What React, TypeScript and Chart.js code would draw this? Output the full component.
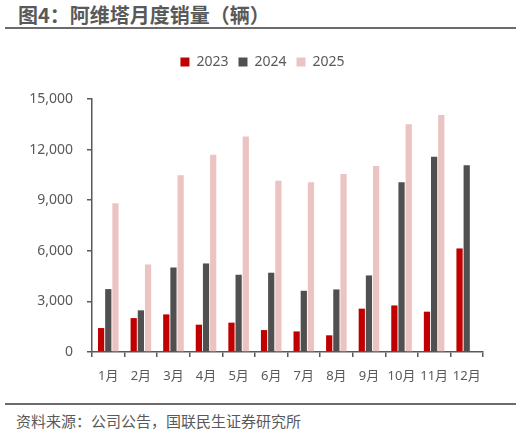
import { useEffect, useRef } from "react";
import { Chart, registerables } from "chart.js";

Chart.register(...registerables);

const months = ["1月", "2月", "3月", "4月", "5月", "6月", "7月", "8月", "9月", "10月", "11月", "12月"];
const sales2023 = [1420, 2010, 2230, 1620, 1740, 1300, 1220, 990, 2570, 2760, 2390, 6140];
const sales2024 = [3730, 2470, 5010, 5250, 4580, 4700, 3630, 3710, 4540, 10060, 11580, 11070];
const sales2025 = [8820, 5190, 10480, 11700, 12770, 10160, 10060, 10560, 11030, 13500, 14050, null];
const seriesNames = ["2023", "2024", "2025"];

const FONT = '"Noto Sans", "Noto Sans CJK SC", sans-serif';
const GREY = "#595959";

// legend sits a bit right of the plot centre and leaves a gap below it
const legendTweak = {
  id: "legendTweak",
  beforeInit(chart: any) {
    const lg = chart.legend;
    const origFit = lg.fit;
    const origDraw = lg.draw;
    lg.fit = function () {
      origFit.bind(lg)();
      this.height += 20;
    };
    lg.draw = function () {
      const c = chart.ctx;
      c.save();
      c.translate(21, 0);
      origDraw.bind(lg)();
      c.restore();
    };
  },
};

const App = () => {
  const chartRef = useRef<HTMLCanvasElement | null>(null);

  useEffect(() => {
    if (!chartRef.current) return;
    const ctx = chartRef.current.getContext("2d");
    if (!ctx) return;

    const chart = new Chart(ctx, {
      type: "bar",
      data: {
        labels: months,
        datasets: [
          { label: seriesNames[0], data: sales2023, backgroundColor: "#C00000" },
          { label: seriesNames[1], data: sales2024, backgroundColor: "#505050" },
          { label: seriesNames[2], data: sales2025, backgroundColor: "#EBC3C3" },
        ],
      },
      options: {
        responsive: false,
        animation: false,
        datasets: { bar: { categoryPercentage: 0.66, barPercentage: 0.87 } },
        layout: { padding: { top: 10, right: 38, left: 0, bottom: 0 } },
        plugins: {
          legend: {
            position: "top",
            labels: {
              boxWidth: 9,
              boxHeight: 9,
              padding: 10,
              color: GREY,
              font: { family: FONT, size: 14 },
            },
          },
          tooltip: { enabled: false },
        },
        scales: {
          x: {
            grid: { display: true, drawOnChartArea: false, drawTicks: true, tickLength: 5, color: GREY, lineWidth: 1.5 },
            border: { display: true, color: GREY, width: 1.5 },
            ticks: { color: GREY, font: { family: FONT, size: 13 }, padding: 11, autoSkip: false, maxRotation: 0 },
            afterFit: (scale: any) => {
              scale.height = 48;
            },
          },
          y: {
            min: 0,
            max: 15000,
            ticks: {
              stepSize: 3000,
              color: GREY,
              padding: 14,
              font: { family: FONT, size: 14 },
              callback: (v: any) => Number(v).toLocaleString("en-US"),
            },
            grid: { display: true, drawOnChartArea: false, drawTicks: true, tickLength: 5, color: GREY, lineWidth: 1.5 },
            border: { display: true, color: GREY, width: 1.5 },
            afterFit: (scale: any) => {
              scale.width = 92;
            },
          },
        },
      },
      plugins: [legendTweak],
    });

    return () => {
      chart.destroy();
    };
  }, []);

  return (
    <div style={{ position: "fixed", left: 0, top: 0, width: 521, height: 435, background: "#fff", fontFamily: FONT, color: GREY }}>
      <div style={{ position: "absolute", left: 18, top: 2, fontSize: 20, fontWeight: "bold", lineHeight: "26px", fontFamily: '"Noto Sans CJK SC", sans-serif' }}>
        图4：阿维塔月度销量（辆）
      </div>
      <div style={{ position: "absolute", left: 5, top: 27, width: 511, height: 2, background: "#6b6b6b" }} />
      <canvas ref={chartRef} width={521} height={365} style={{ position: "absolute", left: 0, top: 35 }} />
      <div style={{ position: "absolute", left: 5, top: 403, width: 511, height: 2, background: "#6b6b6b" }} />
      <div style={{ position: "absolute", left: 16, top: 410, fontSize: 15, lineHeight: "22px", fontFamily: '"Noto Sans CJK SC", sans-serif' }}>
        资料来源：公司公告，国联民生证券研究所
      </div>
    </div>
  );
};

export default App;
